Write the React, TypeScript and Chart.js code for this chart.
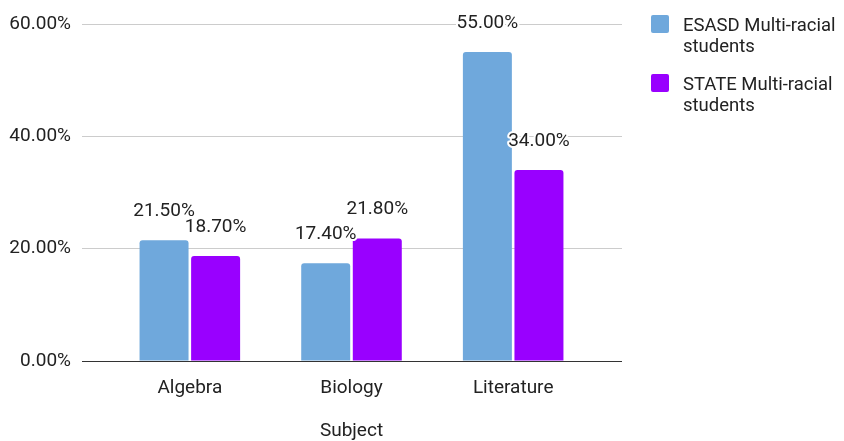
import { useEffect, useRef } from 'react';
import { Chart, registerables } from 'chart.js';

Chart.register(...registerables);

const categories = ['Algebra', 'Biology', 'Literature'];
const esasdValues = [21.5, 17.4, 55.0];
const stateValues = [18.7, 21.8, 34.0];
const seriesNames = ['ESASD Multi-racial students', 'STATE Multi-racial students'];
const seriesColors = ['#6fa8dc', '#9900ff'];
const yMin = 0;
const yMax = 60;
const yStep = 20;
const xTitle = 'Subject';

const FONT = 'Roboto';
const TEXT = '#222222';
const fmt = (v: number) => v.toFixed(2) + '%';

const dataLabelPlugin = {
  id: 'dataLabels',
  afterDatasetsDraw(chart: any) {
    const ctx = chart.ctx;
    ctx.save();
    ctx.font = `19px ${FONT}`;
    ctx.textAlign = 'center';
    ctx.textBaseline = 'middle';
    ctx.lineJoin = 'round';
    chart.data.datasets.forEach((ds: any, di: number) => {
      const meta = chart.getDatasetMeta(di);
      meta.data.forEach((el: any, i: number) => {
        const s = fmt(ds.data[i]);
        ctx.strokeStyle = '#ffffff';
        ctx.lineWidth = 4;
        ctx.strokeText(s, el.x, el.y - 29);
        ctx.fillStyle = TEXT;
        ctx.fillText(s, el.x, el.y - 29);
      });
    });
    ctx.restore();
  },
};

const gridColor = (c: any) => (c.tick && c.tick.value === 0 ? '#333333' : '#cccccc');

export default function App() {
  const ref = useRef<HTMLCanvasElement | null>(null);

  useEffect(() => {
    if (!ref.current) return;
    const chart = new Chart(ref.current, {
      type: 'bar',
      data: {
        labels: categories,
        datasets: [
          {
            label: seriesNames[0],
            data: esasdValues,
            backgroundColor: seriesColors[0],
            borderRadius: 3,
            borderSkipped: 'bottom',
            categoryPercentage: 0.638,
            barPercentage: 0.95,
          },
          {
            label: seriesNames[1],
            data: stateValues,
            backgroundColor: seriesColors[1],
            borderRadius: 3,
            borderSkipped: 'bottom',
            categoryPercentage: 0.638,
            barPercentage: 0.95,
          },
        ],
      },
      options: {
        animation: false,
        responsive: true,
        maintainAspectRatio: false,
        layout: { padding: { top: 24, right: 222, bottom: 0, left: 0 } },
        plugins: {
          legend: { display: false },
          tooltip: { enabled: false },
        },
        scales: {
          x: {
            grid: { display: false },
            border: { display: false },
            ticks: {
              color: TEXT,
              font: { family: FONT, size: 19 },
              padding: 8,
            },
            title: {
              display: true,
              text: xTitle,
              color: TEXT,
              font: { family: FONT, size: 19, lineHeight: 1 },
              padding: { top: 0, bottom: 0 },
            },
            afterFit(scale: any) {
              scale.height = 80;
            },
          },
          y: {
            min: yMin,
            max: yMax,
            position: 'left',
            grid: {
              color: gridColor,
              lineWidth: 1,
              drawTicks: true,
              tickLength: 27,
              tickColor: gridColor,
            },
            border: { display: false },
            ticks: {
              stepSize: yStep,
              color: TEXT,
              font: { family: FONT, size: 19 },
              padding: 11,
              callback: (v: any) => fmt(Number(v)),
            },
            afterFit(scale: any) {
              scale.width = 109;
            },
          },
          y2: {
            min: yMin,
            max: yMax,
            position: 'right',
            grid: {
              drawOnChartArea: false,
              color: gridColor,
              drawTicks: true,
              tickLength: 28,
              tickColor: gridColor,
            },
            border: { display: false },
            ticks: { stepSize: yStep, display: false },
            afterFit(scale: any) {
              scale.width = 28;
            },
          },
        },
      },
      plugins: [dataLabelPlugin],
    } as any);
    return () => chart.destroy();
  }, []);

  const legendTop = [15, 74];

  return (
    <div style={{ position: 'fixed', left: 0, top: 0, width: 844, height: 441, background: '#fff' }}>
      <canvas ref={ref} />
      {seriesNames.map((name, i) => {
        const k = name.lastIndexOf(' ');
        const text = name.slice(0, k) + '\n' + name.slice(k + 1);
        return (
          <div key={name} style={{ position: 'absolute', left: 651, top: legendTop[i] }}>
            <div
              style={{
                position: 'absolute',
                left: 0,
                top: 0,
                width: 18,
                height: 18,
                borderRadius: 2,
                background: seriesColors[i],
              }}
            />
            <div
              style={{
                position: 'absolute',
                left: 32,
                top: 0,
                whiteSpace: 'pre',
                fontFamily: FONT,
                fontSize: 18.5,
                lineHeight: '21px',
                color: TEXT,
              }}
            >
              {text}
            </div>
          </div>
        );
      })}
    </div>
  );
}
